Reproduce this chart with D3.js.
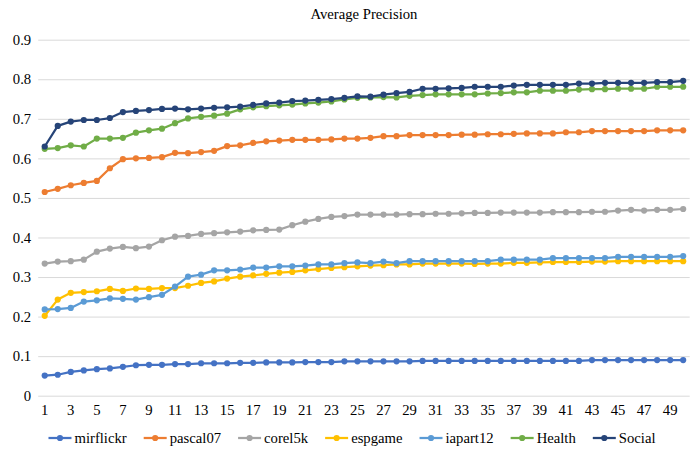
<!DOCTYPE html>
<html>
<head>
<meta charset="utf-8">
<script src="https://cdn.jsdelivr.net/npm/d3@7"></script>
<style>
  body { margin: 0; background: #fff; }
</style>
</head>
<body>
<div id="chart"></div>
<script>
const categories = d3.range(1, 51)
const tickLabels = categories.filter(d => d % 2 === 1)
const yTicks = [0, 0.1, 0.2, 0.3, 0.4, 0.5, 0.6, 0.7, 0.8, 0.9]

const mirflickr = [0.051,0.053,0.060,0.064,0.067,0.069,0.073,0.077,0.078,0.078,0.080,0.080,0.082,0.082,0.082,0.083,0.083,0.084,0.084,0.084,0.085,0.085,0.085,0.087,0.087,0.087,0.087,0.087,0.087,0.088,0.088,0.088,0.088,0.088,0.088,0.088,0.088,0.088,0.088,0.088,0.088,0.088,0.090,0.090,0.090,0.090,0.090,0.090,0.090,0.090]
const pascal07 = [0.515,0.523,0.532,0.538,0.543,0.575,0.598,0.600,0.601,0.603,0.614,0.613,0.616,0.619,0.631,0.633,0.639,0.643,0.645,0.647,0.647,0.647,0.648,0.650,0.650,0.652,0.656,0.656,0.659,0.659,0.659,0.659,0.660,0.660,0.661,0.661,0.662,0.663,0.663,0.663,0.666,0.666,0.669,0.669,0.669,0.669,0.669,0.671,0.671,0.671]
const corel5k = [0.334,0.339,0.340,0.344,0.364,0.372,0.376,0.373,0.377,0.393,0.402,0.404,0.409,0.411,0.413,0.415,0.418,0.419,0.420,0.431,0.440,0.447,0.452,0.454,0.458,0.458,0.458,0.458,0.459,0.459,0.460,0.460,0.461,0.462,0.462,0.463,0.463,0.463,0.463,0.464,0.464,0.464,0.465,0.465,0.468,0.470,0.468,0.470,0.470,0.472]
const espgame = [0.202,0.243,0.260,0.262,0.264,0.270,0.265,0.271,0.270,0.272,0.272,0.278,0.285,0.289,0.296,0.301,0.304,0.308,0.311,0.313,0.317,0.320,0.323,0.325,0.327,0.329,0.330,0.332,0.332,0.334,0.334,0.334,0.334,0.333,0.334,0.334,0.336,0.336,0.337,0.338,0.338,0.338,0.339,0.339,0.340,0.340,0.340,0.340,0.340,0.340]
const iapart12 = [0.218,0.219,0.222,0.238,0.241,0.246,0.245,0.243,0.249,0.255,0.276,0.301,0.306,0.317,0.317,0.319,0.324,0.324,0.327,0.327,0.329,0.332,0.332,0.335,0.337,0.335,0.339,0.335,0.340,0.340,0.340,0.340,0.340,0.340,0.340,0.344,0.344,0.344,0.344,0.348,0.348,0.348,0.348,0.348,0.351,0.351,0.351,0.351,0.351,0.353]
const health = [0.624,0.626,0.633,0.630,0.650,0.650,0.652,0.665,0.671,0.675,0.689,0.701,0.705,0.708,0.713,0.724,0.729,0.732,0.734,0.736,0.739,0.741,0.744,0.749,0.753,0.754,0.755,0.754,0.758,0.760,0.762,0.762,0.762,0.762,0.764,0.765,0.767,0.767,0.771,0.771,0.771,0.774,0.775,0.775,0.776,0.776,0.776,0.781,0.781,0.781]
const social = [0.630,0.682,0.693,0.697,0.697,0.702,0.717,0.720,0.722,0.725,0.726,0.724,0.726,0.728,0.729,0.731,0.735,0.739,0.741,0.745,0.746,0.748,0.750,0.753,0.757,0.756,0.761,0.765,0.768,0.776,0.776,0.777,0.778,0.781,0.781,0.781,0.784,0.786,0.786,0.786,0.786,0.789,0.789,0.791,0.791,0.791,0.791,0.793,0.793,0.796]

const seriesNames = ["mirflickr", "pascal07", "corel5k", "espgame", "iapart12", "Health", "Social"]
const seriesValues = [mirflickr, pascal07, corel5k, espgame, iapart12, health, social]
const colors = ["#4472C4", "#ED7D31", "#A5A5A5", "#FFC000", "#5B9BD5", "#70AD47", "#264478"]

const width = 694, height = 453
const plotLeft = 38.2, plotRight = 689.7, plotTop = 39.7, plotBottom = 395.7
const fontSize = 14.7
const serif = "'Liberation Serif', 'Times New Roman', 'DejaVu Serif', serif"

const svg = d3.select("#chart").append("svg")
  .attr("width", width)
  .attr("height", height)
  .attr("font-family", serif)

const x = d3.scaleBand().domain(categories).range([plotLeft, plotRight])
const cx = d => x(d) + x.bandwidth() / 2
const y = d3.scaleLinear().domain([0, 0.9]).range([plotBottom, plotTop])

// title
svg.append("text")
  .attr("x", (plotLeft + plotRight) / 2)
  .attr("y", 14)
  .attr("dy", "0.35em")
  .attr("text-anchor", "middle")
  .attr("font-family", serif)
  .attr("font-size", fontSize)
  .attr("fill", "#000")
  .text("Average Precision")

// y axis + gridlines
const yAxis = svg.append("g")
  .attr("transform", `translate(${plotLeft},0)`)
  .call(d3.axisLeft(y).tickValues(yTicks).tickSize(-(plotRight - plotLeft)).tickPadding(7)
    .tickFormat(d => d === 0 ? "0" : d3.format(".1f")(d)))
  .attr("font-family", serif)
  .attr("font-size", fontSize)
yAxis.select(".domain").remove()
yAxis.selectAll(".tick line").attr("stroke", "#d9d9d9").attr("stroke-width", 1)
yAxis.selectAll(".tick text").attr("fill", "#000")

// x axis labels
const xAxis = svg.append("g")
  .attr("transform", `translate(0,${plotBottom})`)
  .call(d3.axisBottom(x).tickValues(tickLabels).tickSize(0).tickPadding(9))
  .attr("font-family", serif)
  .attr("font-size", fontSize)
xAxis.select(".domain").remove()
xAxis.selectAll(".tick text").attr("fill", "#000")

// lines
const line = d3.line()
  .x((d, i) => cx(categories[i]))
  .y(d => y(d))

seriesValues.forEach((vals, s) => {
  const g = svg.append("g")
  g.append("path")
    .datum(vals)
    .attr("d", line)
    .attr("fill", "none")
    .attr("stroke", colors[s])
    .attr("stroke-width", 2.25)
    .attr("stroke-linejoin", "round")
  g.selectAll("circle")
    .data(vals)
    .join("circle")
    .attr("cx", (d, i) => cx(categories[i]))
    .attr("cy", d => y(d))
    .attr("r", 3.1)
    .attr("fill", colors[s])
})

// legend
const legend = svg.append("g").attr("font-family", serif).attr("font-size", fontSize)
const legendY = 438
const tmp = legend.append("text")
const widths = seriesNames.map(n => { tmp.text(n); return tmp.node().getComputedTextLength() })
tmp.remove()
const markW = 23, markGap = 3, itemGap = 17
const total = d3.sum(widths) + seriesNames.length * (markW + markGap) + (seriesNames.length - 1) * itemGap
let lx = 352 - total / 2
seriesNames.forEach((n, s) => {
  const it = legend.append("g").attr("transform", `translate(${lx},${legendY})`)
  it.append("line").attr("x1", 0).attr("x2", markW)
    .attr("stroke", colors[s]).attr("stroke-width", 2.25)
  it.append("circle").attr("cx", markW / 2).attr("r", 3.1).attr("fill", colors[s])
  it.append("text").attr("x", markW + markGap).attr("dy", "0.35em")
    .attr("fill", "#000").text(n)
  lx += markW + markGap + widths[s] + itemGap
})
</script>
</body>
</html>
